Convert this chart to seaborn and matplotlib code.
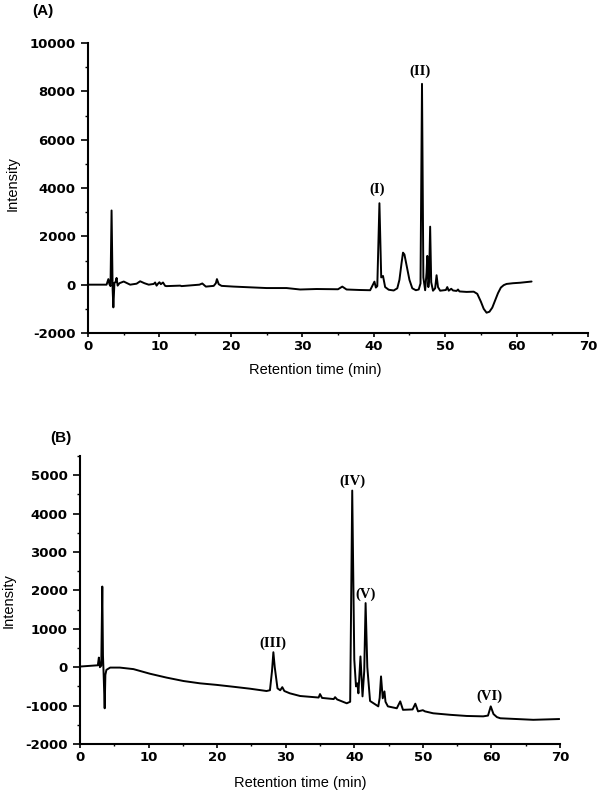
import matplotlib
matplotlib.use("Agg")
import matplotlib.pyplot as plt
import seaborn as sns
import pandas as pd
from matplotlib.ticker import MultipleLocator

# ---------------- Data ----------------
# Panel A chromatogram
time_a = [0, 2.6, 2.85, 3.0, 3.15, 3.3, 3.45, 3.55, 3.7, 3.85,
          4.0, 4.15, 4.4, 5.0, 5.9, 6.8, 7.3, 7.9, 8.5, 9.2,
          9.4, 9.6, 9.8, 10.0, 10.2, 10.5, 10.8, 11.0, 12.9, 13.1,
          15.6, 16.0, 16.5, 17.6, 17.9, 18.05, 18.3, 18.7, 20.4, 25.0,
          27.8, 29.7, 32.0, 35.0, 35.6, 36.2, 38.0, 39.5, 40.1, 40.3,
          40.5, 40.8, 41.05, 41.3, 41.6, 42.1, 42.8, 43.3, 43.6, 43.9,
          44.1, 44.3, 44.6, 45.0, 45.4, 45.9, 46.3, 46.55, 46.76, 46.95,
          47.2, 47.4, 47.5, 47.65, 47.75, 47.9, 48.05, 48.3, 48.6, 48.8,
          49.0, 49.3, 50.1, 50.3, 50.5, 50.85, 51.1, 51.6, 51.8, 52.0,
          53.0, 54.0, 54.5, 55.0, 55.4, 55.8, 56.2, 56.6, 57.0, 57.4,
          57.8, 58.2, 58.6, 59.5, 60.5, 62.1]
intensity_a = [0, 0, 230, 20, -60, 3070, -200, -940, 80, 100,
               280, -40, 60, 130, 0, 40, 140, 60, 0, 30,
               90, -40, 40, 100, 20, 90, -50, -60, -40, -60,
               0, 50, -80, -50, 60, 230, 20, -50, -80, -140,
               -140, -200, -180, -190, -80, -200, -220, -230, 125, -120,
               -60, 3370, 300, 360, -100, -210, -240, -150, 200, 900,
               1325, 1250, 800, 200, -150, -230, -200, 50, 8310, 300,
               -230, 500, 1190, -100, 200, 2400, 100, -250, -150, 390,
               -100, -250, -220, -100, -250, -170, -240, -260, -200, -280,
               -300, -290, -380, -700, -1000, -1160, -1120, -950, -650, -350,
               -120, -20, 30, 60, 80, 130]

# Panel B chromatogram
time_b = [0, 2.6, 2.75, 2.9, 3.1, 3.25, 3.35, 3.45, 3.6, 3.7,
          3.85, 4.4, 5.8, 7.8, 10.2, 12.6, 15.1, 17.5, 19.9, 22.4,
          24.8, 27.2, 27.7, 28.0, 28.2, 28.4, 28.8, 29.2, 29.5, 29.8,
          30.6, 32.1, 34.8, 35.0, 35.3, 37.0, 37.2, 37.5, 38.9, 39.4,
          39.7, 40.0, 40.25, 40.45, 40.6, 40.9, 41.2, 41.45, 41.65, 41.9,
          42.3, 43.5, 43.7, 43.9, 44.15, 44.4, 44.55, 44.9, 46.2, 46.7,
          47.1, 48.5, 48.9, 49.3, 50.0, 50.3, 51.5, 54.0, 56.4, 58.8,
          59.5, 59.9, 60.3, 60.8, 61.3, 63.7, 66.1, 69.9]
intensity_b = [17, 50, 250, 0, 40, 2100, 300, -200, -1070, -200,
               -70, -10, -10, -50, -170, -270, -360, -420, -460, -510,
               -560, -620, -600, -100, 390, 0, -550, -600, -520, -620,
               -680, -750, -790, -700, -800, -830, -780, -840, -940, -900,
               4600, 200, -500, -420, -680, 280, -760, -100, 1670, 0,
               -880, -1020, -800, -240, -810, -630, -900, -1020, -1070, -890,
               -1110, -1100, -950, -1150, -1120, -1150, -1200, -1240, -1270, -1280,
               -1260, -1020, -1220, -1300, -1330, -1350, -1370, -1350]

# Peak labels
labels_a = ["(I)", "(II)"]
label_time_a = [40.5, 46.5]
label_int_a = [3950, 8820]

labels_b = ["(III)", "(IV)", "(V)", "(VI)"]
label_time_b = [28.2, 39.7, 41.7, 59.7]
label_int_b = [625, 4830, 1900, -765]

# Tick values
x_ticks = [0, 10, 20, 30, 40, 50, 60, 70]
y_ticks_a = [-2000, 0, 2000, 4000, 6000, 8000, 10000]
y_ticks_b = [-2000, -1000, 0, 1000, 2000, 3000, 4000, 5000]

assert len(time_a) == len(intensity_a)
assert len(time_b) == len(intensity_b)

df_a = pd.DataFrame({"time": time_a, "intensity": intensity_a})
df_b = pd.DataFrame({"time": time_b, "intensity": intensity_b})

# ---------------- Figure ----------------
sns.set_theme(style="ticks")
plt.rcParams['font.family'] = ['Liberation Sans', 'DejaVu Sans']
plt.rcParams['axes.unicode_minus'] = False

W, H = 600, 796
fig = plt.figure(figsize=(W / 100, H / 100), dpi=100)
axA = fig.add_axes([88 / W, 1 - 333 / H, 500 / W, 290 / H])
axB = fig.add_axes([80 / W, 1 - 744 / H, 480 / W, 288 / H])

sns.lineplot(data=df_a, x="time", y="intensity", ax=axA, color="black",
             lw=1.4, estimator=None, sort=False)
sns.lineplot(data=df_b, x="time", y="intensity", ax=axB, color="black",
             lw=1.4, estimator=None, sort=False)

tick_font = dict(fontweight="bold", family="DejaVu Sans", fontsize=9.5,
                 color="black")


def style_axis(ax, ylim, yticks, yminor):
    ax.set_xticks(x_ticks, [str(v) for v in x_ticks], **tick_font)
    ax.set_yticks(yticks, [str(v) for v in yticks], **tick_font)
    ax.xaxis.set_minor_locator(MultipleLocator(5))
    ax.yaxis.set_minor_locator(MultipleLocator(yminor))
    ax.set_xlim(0, 70)
    ax.set_ylim(*ylim)
    for s in ["top", "right"]:
        ax.spines[s].set_visible(False)
    for s in ["left", "bottom"]:
        ax.spines[s].set_linewidth(1.5)
        ax.spines[s].set_color("black")
    ax.tick_params(axis="y", which="major", direction="out", length=5,
                   width=1.2, pad=4, colors="black")
    ax.tick_params(axis="y", which="minor", direction="out", length=2.5,
                   width=1.0, colors="black")
    ax.tick_params(axis="x", which="major", direction="out", length=3,
                   width=1.2, pad=2, colors="black")
    ax.tick_params(axis="x", which="minor", direction="out", length=1.5,
                   width=1.0, colors="black")
    ax.set_xlabel("Retention time (min)", fontsize=10.5, color="black")
    ax.set_ylabel("Intensity", fontsize=10.5, color="black")


style_axis(axA, (-2000, 10000), y_ticks_a, 1000)
style_axis(axB, (-2000, 5500), y_ticks_b, 500)

axA.xaxis.set_label_coords(0.454, -0.102)
axB.xaxis.set_label_coords(0.459, -0.111)
axA.yaxis.set_label_coords(-0.136, 0.517)
axB.yaxis.set_label_coords(-0.135, 0.497)

for txt, t, v in zip(labels_a, label_time_a, label_int_a):
    axA.text(t, v, txt, ha="center", va="center", family="Liberation Serif",
             fontweight="bold", fontsize=10.5, color="black")
for txt, t, v in zip(labels_b, label_time_b, label_int_b):
    axB.text(t, v, txt, ha="center", va="center", family="Liberation Serif",
             fontweight="bold", fontsize=10.5, color="black")

fig.text(32 / W, 1 - 11 / H, "(A)", ha="left", va="center",
         fontweight="bold", fontsize=11, color="black")
fig.text(50 / W, 1 - 438 / H, "(B)", ha="left", va="center",
         fontweight="bold", fontsize=11, color="black")

fig.savefig("out.png", dpi=100, facecolor="white")
